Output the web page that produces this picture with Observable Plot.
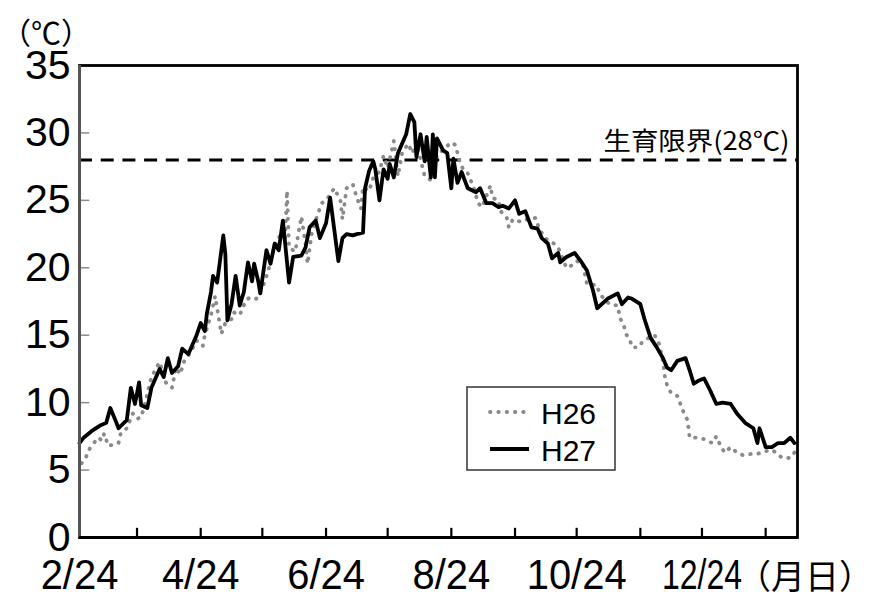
<!DOCTYPE html>
<html>
<head>
<meta charset="utf-8">
<script src="https://cdn.jsdelivr.net/npm/d3@7"></script>
<script src="https://cdn.jsdelivr.net/npm/@observablehq/plot@0.6"></script>
<style>
  body { margin: 0; background: #fff; }
  #chart svg { display: block; overflow: visible; }
</style>
</head>
<body>
<div id="chart"></div>
<script>
// x = days since 2/24, y = water temperature (℃)
const seriesNames = ["H26", "H27"];

const h26Series = [[1,5.5],[3,5.9],[5,6.6],[7,7.0],[9,7.4],[11,7.2],[12,7.7],[14,6.8],[17,6.9],[19,7.0],[20,7.7],[23,8.1],[26,9.2],[28,8.8],[30,8.9],[32,10.0],[35,11.9],[39,13.0],[42,11.5],[45,11.1],[47,12.6],[49,12.1],[51,13.1],[54,13.7],[57,14.6],[60,14.2],[61,15.0],[64,16.5],[66,17.9],[68,16.1],[69,15.1],[71,15.9],[74,16.2],[75,16.7],[78,16.5],[81,17.6],[83,17.8],[86,17.7],[89,18.5],[92,19.8],[93,20.7],[96,21.8],[98,22.6],[100,22.0],[101,25.7],[102,21.5],[105,21.2],[108,23.8],[110,21.8],[111,20.3],[113,22.5],[116,24.0],[118,24.8],[121,25.2],[124,25.9],[127,25.0],[128,23.6],[130,25.9],[133,26.2],[135,25.2],[137,24.4],[138,26.0],[141,25.7],[143,26.7],[146,27.1],[148,28.3],[150,27.4],[153,29.4],[155,26.8],[157,28.5],[160,29.2],[162,28.5],[164,29.3],[168,26.8],[171,26.5],[174,28.3],[178,28.9],[181,29.3],[183,29.1],[185,27.9],[187,27.2],[189,27.0],[192,25.9],[194,24.8],[196,24.5],[199,25.7],[200,26.1],[201,25.2],[204,25.0],[205,24.2],[208,23.7],[209,23.0],[211,23.6],[215,23.4],[218,23.6],[222,23.7],[224,22.8],[228,22.0],[231,21.8],[233,21.5],[237,20.0],[240,20.2],[242,20.5],[245,20.3],[247,18.8],[252,18.7],[253,18.1],[256,17.6],[258,17.3],[262,17.2],[263,16.3],[265,15.7],[266,15.1],[268,14.6],[269,14.1],[272,14.1],[274,14.5],[277,14.8],[280,15.0],[282,14.4],[284,13.1],[285,11.9],[286,11.3],[288,10.7],[291,10.5],[294,9.3],[296,8.7],[297,7.4],[300,7.4],[304,7.3],[308,7.0],[310,7.5],[312,6.8],[314,6.3],[317,6.7],[320,6.3],[323,6.1],[327,6.2],[330,6.2],[334,6.4],[337,6.5],[339,6.3],[342,5.9],[346,5.9],[348,6.3]];

const h27Series = [[0,7.0],[2,7.4],[6,7.9],[10,8.3],[13,8.5],[15,9.6],[18,8.5],[19,8.1],[23,8.7],[25,11.1],[27,9.9],[29,11.5],[30,9.8],[33,9.6],[35,11.1],[39,12.5],[41,11.9],[43,13.3],[45,12.2],[48,12.7],[50,14.0],[53,13.6],[57,15.0],[59,15.9],[61,15.3],[62,16.6],[64,18.2],[65,19.4],[67,18.9],[70,22.4],[71,21.0],[72,16.1],[74,17.3],[76,19.4],[78,17.2],[80,18.2],[82,20.4],[84,19.0],[85,20.3],[87,19.0],[88,18.1],[91,21.3],[93,20.3],[95,21.8],[97,21.3],[99,23.5],[102,18.9],[104,20.8],[108,20.9],[110,21.5],[112,23.0],[115,23.5],[117,22.2],[120,23.3],[122,25.2],[126,20.5],[128,22.2],[130,22.5],[133,22.4],[135,22.5],[138,22.6],[139,25.9],[141,27.2],[143,27.9],[144,27.3],[146,25.0],[148,27.3],[150,26.6],[151,27.7],[153,26.7],[155,28.5],[157,29.2],[159,29.9],[161,31.4],[163,30.8],[164,28.2],[166,29.9],[168,27.9],[169,29.7],[171,26.7],[172,29.9],[173,26.7],[174,29.6],[177,28.7],[179,28.5],[181,25.9],[182,28.1],[184,26.3],[186,27.1],[188,26.3],[189,25.9],[193,25.6],[195,25.9],[198,24.8],[201,24.8],[204,24.5],[206,24.6],[209,24.4],[212,25.0],[214,24.0],[217,24.2],[220,23.0],[223,22.9],[225,22.2],[228,21.8],[230,20.7],[233,21.1],[234,20.4],[237,20.8],[241,21.1],[244,20.5],[247,19.8],[250,18.3],[252,17.0],[257,17.7],[262,18.1],[264,17.3],[267,17.8],[269,17.7],[273,17.3],[275,16.2],[278,14.8],[281,14.1],[284,13.3],[286,12.6],[288,12.4],[291,13.1],[295,13.3],[297,12.4],[299,11.4],[301,11.6],[304,11.8],[307,10.9],[310,9.9],[313,10.0],[317,9.9],[320,9.2],[324,8.5],[328,8.1],[330,7.0],[331,8.1],[334,6.7],[337,6.7],[340,7.0],[343,7.0],[346,7.4],[348,7.0]];

// Month ticks: the 24th of each month, as days since 2/24
const monthTickDays = [0, 28, 59, 89, 120, 150, 181, 212, 242, 273, 303, 334];
const monthTickLabels = ["2/24","3/24","4/24","5/24","6/24","7/24","8/24","9/24","10/24","11/24","12/24","1/24"];
const labeledTickDays = monthTickDays.filter((d, i) => i % 2 === 0);
const yTicks = [0, 5, 10, 15, 20, 25, 30, 35];
const limitTemp = 28;
const limitLabel = "生育限界(28℃)";
const yUnitLabel = "（℃）";
const xUnitLabel = "（月日）";
const xDomainEnd = 349.5;

const toRows = (pairs, name) => pairs.map(([day, temp]) => ({day, temp, name}));
const h26 = toRows(h26Series, seriesNames[0]);
const h27 = toRows(h27Series, seriesNames[1]);
const labelOf = new Map(monthTickDays.map((d, i) => [d, monthTickLabels[i]]));

const arial = "'Liberation Sans', Arial, sans-serif";
const cjk = "'Noto Sans CJK JP', 'Noto Sans', sans-serif";
const dotted = {stroke: "#8a8a8a", strokeWidth: 3.8, strokeDasharray: "0.5,7.8", strokeLinecap: "round"};

const chart = Plot.plot({
  width: 874,
  height: 598,
  marginLeft: 79,
  marginRight: 77,
  marginTop: 65,
  marginBottom: 61,
  x: {domain: [0, xDomainEnd]},
  y: {domain: [0, 35]},
  style: {fontFamily: arial, background: "white", color: "black", overflow: "visible"},
  marks: [
    Plot.ruleY(yTicks.slice(1, -1), {y: d => d, x1: 0, x2: 5, stroke: "#8a8a8a", strokeWidth: 1.5}),
    Plot.ruleX(monthTickDays.slice(1), {x: d => d, y1: 0, y2: 0.68, stroke: "black", strokeWidth: 2.2}),
    Plot.ruleY([limitTemp], {stroke: "black", strokeWidth: 3, strokeDasharray: "13,8.7"}),
    Plot.line(h26, {x: "day", y: "temp", ...dotted}),
    Plot.line(h27, {x: "day", y: "temp", stroke: "black", strokeWidth: 3.8, strokeLinejoin: "round"}),
    Plot.frame({stroke: "black", strokeWidth: 2.8}),
    Plot.ruleX([0], {stroke: "#555", strokeWidth: 3}),
    Plot.ruleY([0], {stroke: "black", strokeWidth: 3.2}),
    Plot.axisY({ticks: yTicks, tickSize: 0, tickPadding: 9, fontSize: 41, tickFormat: d => String(d), label: null}),
    Plot.axisX({ticks: labeledTickDays, tickSize: 0, tickPadding: 22, fontSize: 42, tickFormat: d => labelOf.get(d), label: null}),
    Plot.text([limitLabel], {text: d => d, frameAnchor: "right", y: () => limitTemp, dx: -8, dy: -18, textAnchor: "end", fontSize: 25, fontFamily: cjk, fill: "black"})
  ]
});

document.getElementById("chart").appendChild(chart);
const svg = d3.select(chart);

// condense the x tick labels like the original's narrow font
const xLabels = svg.selectAll('g[aria-label="x-axis tick label"] text');
const nX = xLabels.size();
xLabels.each(function(d, i) {
  const len = this.getComputedTextLength();
  const target = i === nX - 1 ? 80 : len * 0.95;
  d3.select(this).attr("textLength", target).attr("lengthAdjust", "spacingAndGlyphs");
});
// widen the limit label slightly
svg.selectAll('g[aria-label="text"] text').each(function() {
  const len = this.getComputedTextLength();
  d3.select(this).attr("textLength", Math.max(len, 186)).attr("lengthAdjust", "spacingAndGlyphs");
});

// unit labels
svg.append("text").attr("x", 46).attr("y", 44).attr("text-anchor", "middle")
  .attr("font-family", cjk).attr("font-size", 30).attr("fill", "black").text(yUnitLabel);
svg.append("text").attr("x", 805).attr("y", 589).attr("text-anchor", "middle")
  .attr("font-family", cjk).attr("font-size", 34).attr("fill", "black").text(xUnitLabel);

// legend
const lg = svg.append("g");
lg.append("rect").attr("x", 467).attr("y", 387).attr("width", 148).attr("height", 83)
  .attr("fill", "white").attr("stroke", "#333").attr("stroke-width", 1.5);
const legendRows = [
  {name: seriesNames[0], y: 412, style: dotted},
  {name: seriesNames[1], y: 449, style: {stroke: "black", strokeWidth: 4}}
];
legendRows.forEach(r => {
  const ln = lg.append("line").attr("x1", 490).attr("x2", 529).attr("y1", r.y).attr("y2", r.y)
    .attr("stroke", r.style.stroke).attr("stroke-width", r.style.strokeWidth);
  if (r.style.strokeDasharray) ln.attr("stroke-dasharray", r.style.strokeDasharray).attr("stroke-linecap", "round");
  lg.append("text").attr("x", 541).attr("y", r.y + 11.5).attr("text-anchor", "start")
    .attr("font-family", arial).attr("font-size", 30).attr("fill", "black").text(r.name);
});
</script>
</body>
</html>
